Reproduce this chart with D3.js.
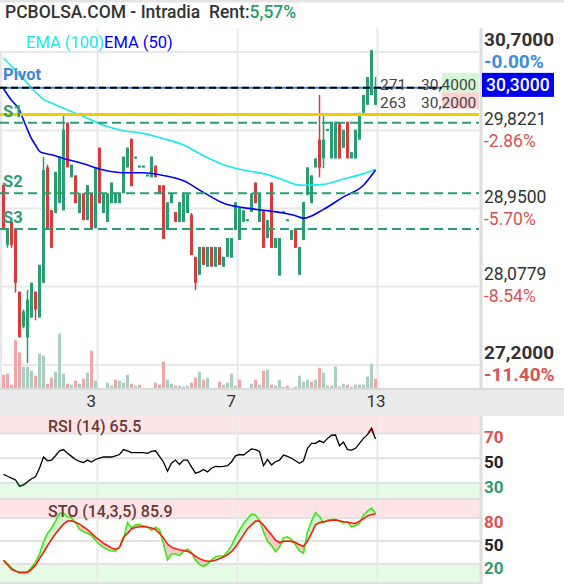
<!DOCTYPE html>
<html><head><meta charset="utf-8">
<script src="https://cdn.jsdelivr.net/npm/d3@7"></script>
<style>
html,body{margin:0;padding:0;background:#fff;}
svg{display:block;font-family:Roboto,"Noto Sans",sans-serif;}
text{white-space:pre;}
</style></head><body>
<svg id="c" width="564" height="584"></svg>
<script>
// ---------------- DATA ----------------
const opens  = [29.21,28.54,28.80,28.73,28.02,27.63,27.51,27.73,28.02,27.73,28.12,29.41,28.93,28.90,29.01,28.93,29.91,29.30,29.32,28.90,29.12,28.82,29.12,28.73,29.63,28.90,28.80,29.01,29.01,29.01,29.12,29.41,29.73,29.51,29.41,29.41,29.31,29.30,29.43,29.21,29.21,28.71,29.01,28.91,28.80,28.80,28.90,28.88,28.41,28.21,28.52,28.30,28.52,28.30,28.52,28.30,28.41,28.40,28.71,28.60,28.80,28.81,28.91,29.24,28.80,28.93,28.62,29.24,28.51,28.20,28.90,28.81,28.60,28.73,28.21,28.60,29.10,29.01,29.41,29.72,29.51,29.82,29.51,29.51,29.91,29.63,29.92,29.51,29.51,29.72,30.02,30.11,30.22,30.11];
const highs  = [29.24,28.73,28.82,28.73,28.02,27.82,28.04,28.12,28.02,28.32,29.53,29.44,28.93,29.36,29.53,30.00,29.91,29.44,29.32,29.12,29.12,29.21,29.12,29.41,29.63,29.12,29.12,29.24,29.12,29.12,29.53,29.63,29.73,29.53,29.43,29.43,29.33,29.53,29.43,29.21,29.21,29.02,29.12,28.91,29.02,29.12,29.12,28.90,28.41,28.52,28.52,28.52,28.52,28.52,28.52,28.41,28.62,28.62,29.02,28.96,28.93,28.83,29.12,29.24,29.12,28.93,28.82,29.24,28.62,28.62,28.92,28.83,28.71,28.73,28.52,29.02,29.41,29.32,29.51,30.22,30.02,29.84,29.92,29.92,29.91,29.83,29.92,29.58,29.83,30.02,30.22,30.42,30.72,30.42];
const lows   = [28.73,28.51,28.51,28.01,27.51,27.61,27.22,27.73,27.70,27.73,28.12,28.71,28.51,28.90,29.01,28.93,29.41,29.30,29.01,28.90,28.82,28.82,28.73,28.73,29.01,28.90,28.80,29.01,29.01,29.01,29.12,29.41,29.20,29.51,29.41,29.41,29.31,29.30,29.30,29.12,28.61,28.71,29.01,28.80,28.80,28.80,28.90,28.43,28.04,28.21,28.32,28.30,28.30,28.30,28.32,28.30,28.41,28.40,28.71,28.60,28.80,28.81,28.91,29.01,28.80,28.51,28.62,28.51,28.51,28.20,28.90,28.81,28.60,28.51,28.21,28.60,29.10,29.01,29.41,29.30,29.40,29.82,29.51,29.51,29.51,29.63,29.51,29.51,29.51,29.72,30.02,30.11,30.22,30.11];
const closes = [28.73,28.71,28.54,28.12,27.51,27.80,27.93,28.12,27.82,28.32,29.38,28.71,28.51,29.36,29.53,29.83,29.41,29.44,29.01,29.12,28.82,29.21,28.73,29.41,29.01,29.12,29.12,29.24,29.12,29.12,29.53,29.63,29.20,29.53,29.43,29.43,29.33,29.53,29.30,29.12,28.61,29.02,29.12,28.80,29.02,29.12,29.12,28.43,28.12,28.52,28.32,28.52,28.30,28.52,28.32,28.41,28.62,28.62,29.02,28.96,28.93,28.83,29.12,29.01,29.12,28.51,28.82,28.51,28.62,28.62,28.92,28.83,28.71,28.51,28.52,29.02,29.41,29.32,29.51,29.41,29.72,29.84,29.92,29.92,29.51,29.83,29.51,29.58,29.83,30.02,30.22,30.42,30.72,30.31];
const volumes = [13.3,14.3,3.3,48.3,35.7,21.3,21.3,17.3,12.3,34.3,32.3,4.3,10.3,16.3,54.3,14.3,4.3,3.3,7.3,4.3,9.3,15.3,37.3,7.3,0,0,5.3,2.3,8.3,7.3,5.3,13.3,4.3,2.3,3.3,0,0,0,5.3,3.3,26.3,8.3,4.3,2.3,2.3,1.3,2.3,5.3,10.3,16.3,8.3,10.3,0,0,6.3,3.3,5.3,14.3,2.3,8.3,0,0,4.3,8.3,3.3,17.3,18.3,3.3,2.3,8.3,1,2.3,0,1.3,12.3,6.3,8.3,6.3,8.3,20.3,15.3,2.3,2.3,21.3,1.3,4.3,3.3,1.3,3.3,3.3,3.3,11.3,24.3,9.3];

const emaIdx = [0,2,4,5,6,7,8,9,10,12,15,20,25,30,35,40,45,50,55,60,65,70,73,75,80,85,90,93];
const ema100 = [30.63,30.54,30.44,30.40,30.35,30.30,30.25,30.21,30.17,30.13,30.07,29.98,29.88,29.82,29.79,29.73,29.66,29.54,29.44,29.38,29.34,29.27,29.22,29.21,29.22,29.28,29.34,29.39];
const ema50  = [30.29,30.16,30.05,29.94,29.83,29.73,29.66,29.59,29.57,29.55,29.51,29.45,29.38,29.35,29.35,29.32,29.26,29.13,29.01,28.96,28.93,28.90,28.87,28.84,28.94,29.08,29.21,29.38];

const rsi  = [37,35.5,34,32.5,27.5,28.5,31,33.5,35,42,51,48,48.5,52,56,57,54,51.5,49,47.5,46.5,48.5,47,49,50,51,51,51,52,53,57,56,54.5,54.5,54.5,54.5,54,55.5,56,51.5,47,39.5,46,48.5,45,48.5,48.5,43,38,39,41,39,42,43.5,43.2,43.5,44,47,52,53,52.6,55,57.5,57,55.5,44,49,44.6,47.2,48.5,52.6,51.5,50,48,46,48,58,62,62,64,62.5,66,68.5,68.7,60,63,57,56.6,58,62,66,69,74,65.5];
const stoK = [24,20.5,15,11,8,8.5,9.5,15.5,22.5,32.5,49,60,67,76,86,86,81.5,80,74,65.5,62,60,57,51,45.5,41.5,39,37,37,42,52,74,67,71,71,70,68.5,64,68,65,46,25.5,33,33,31,36.5,39.5,35,25,19.5,17,20,25,29.5,30.4,30.4,36,44,55,64,73,79,85,84,77,62,50,44,36,42,54,55.5,52,45,37,34,62,76,87,82,74,77.5,78,78.2,76,73.5,75,68.5,70,73,84,89,93,85.9];
const stoD = [25,19,13,11,9.3,9,9,13,18.5,27,35,44,52,59.5,66,72,76,76.5,74.5,72,68.5,65,60,55,51,47,44,41,39,41.5,55,60,66,67.5,68.5,68.5,68,67,65,60,54,46,42,40,38.5,37.5,36.5,34,30,27,25,23.5,23.5,25,27,29,32,36,42,50,58,66,71,76,76,71,64,58,51,48,49.5,50,49.5,48,45,43,50,60,71,74,75,76,77,77.4,76.5,75.2,74.5,73.5,73,76,79,82.7,84.5,85.2];

const priceTicks = [30.7, 29.8221, 28.95, 28.0779, 27.2];
const priceTickLabels = ["30,7000","29,8221","28,9500","28,0779","27,2000"];
const pctTickLabels = ["-0.00%","-2.86%","-5.70%","-8.54%","-11.40%"];
const dayStart = [24, 59, 94];
const dayLabels = ["3","7","13"];
const levelNames = ["Pivot","S1","S2","S3"];
const levelValues = [30.30, 29.91, 29.12, 28.72];
const refLevel = 30.00;
const bookQty = [271, 263];
const bookPrice = ["30,4000","30,2000"];
const lastPriceLabel = "30,3000";
const rsiLevels = [70, 50, 30];
const stoLevels = [80, 50, 20];

// ---------------- SCALES ----------------
const svg = d3.select('#c');
const N = closes.length;
const PR = 479;   // right edge of plotting area
const x = d3.scaleLinear().domain([0, N]).range([1.5, 377.5]);
const cx = i => x(i + 0.5);
const yP = d3.scaleLinear().domain([27.2, 30.7]).range([365, 52]);
const yV = d3.scaleLinear().domain([0, 60]).range([388, 328]);
const yR = d3.scaleLinear().domain([18, 84]).range([498, 416]);
const yS = d3.scaleLinear().domain([-3.5, 103.5]).range([582, 500]);

const GRID = '#e8e8e8', GREEN = '#2a9d72', RED = '#d63c3c';

const defs = svg.append('defs');
function clipRect(id, x0, y0, w, h){ defs.append('clipPath').attr('id', id).append('rect').attr('x',x0).attr('y',y0).attr('width',w).attr('height',h); }
clipRect('cPrice', 0, 28, PR, 360);
clipRect('cRsi', 0, 416, PR, 82);
clipRect('cSto', 0, 500, PR, 82);
clipRect('cRsiHi', 0, 410, PR, yR(70) - 410);
clipRect('cRsiLo', 0, yR(30), PR, 100);

// top bar
svg.append('rect').attr('x',0).attr('y',0).attr('width',564).attr('height',2.5).attr('fill','#e4e4e4');

// title
const title = svg.append('text').attr('x',5).attr('y',18).attr('font-size',17.5).attr('font-weight',500).attr('fill','#333');
title.append('tspan').text('PCBOLSA.COM - Intradia  Rent:');
title.append('tspan').attr('fill','#2a9d72').text('5,57%');

// ---------------- PRICE PANEL ----------------
const gP = svg.append('g');
gP.selectAll('line.hg').data(priceTicks).join('line').attr('class','hg')
  .attr('x1',0).attr('x2',PR).attr('y1',d=>yP(d)).attr('y2',d=>yP(d)).attr('stroke',GRID).attr('stroke-width',2);
gP.selectAll('line.vg').data(dayStart).join('line').attr('class','vg')
  .attr('x1',d=>x(d)).attr('x2',d=>x(d)).attr('y1',28).attr('y2',388).attr('stroke',GRID).attr('stroke-width',2);
gP.append('line').attr('x1',1).attr('x2',1).attr('y1',52).attr('y2',388).attr('stroke',GRID).attr('stroke-width',2);

const plot = svg.append('g').attr('clip-path','url(#cPrice)');
// volume
plot.selectAll('rect.vol').data(volumes).join('rect').attr('class','vol')
  .attr('x',(d,i)=>cx(i)-1.5).attr('width',3)
  .attr('y',d=>yV(d)).attr('height',d=>yV(0)-yV(d))
  .attr('fill',(d,i)=> closes[i] >= (i ? closes[i-1] : opens[i]) ? '#a9cfbf' : '#f4a6a6');

// candles
const idx = d3.range(N);
plot.selectAll('line.wick').data(idx).join('line').attr('class','wick')
  .attr('x1',i=>cx(i)).attr('x2',i=>cx(i)).attr('y1',i=>yP(highs[i])).attr('y2',i=>yP(lows[i]))
  .attr('stroke',i=>closes[i]>=opens[i]?GREEN:RED).attr('stroke-width',1.5);
plot.selectAll('rect.body').data(idx).join('rect').attr('class','body')
  .attr('x',i=>cx(i)-1.5).attr('width',3)
  .attr('y',i=>yP(Math.max(opens[i],closes[i])))
  .attr('height',i=>Math.max(2, Math.abs(yP(opens[i])-yP(closes[i]))))
  .attr('fill',i=>closes[i]>=opens[i]?GREEN:RED);

// EMAs
const emaLine = arr => d3.line().x((d,k)=>cx(emaIdx[k])).y(d=>yP(d)).curve(d3.curveMonotoneX)(arr);
plot.append('path').attr('d',emaLine(ema100)).attr('fill','none').attr('stroke','#19e9ef').attr('stroke-width',1.6);
plot.append('path').attr('d',emaLine(ema50)).attr('fill','none').attr('stroke','#0000ff').attr('stroke-width',1.6);

// levels
plot.append('line').attr('x1',0).attr('x2',PR).attr('y1',yP(refLevel)).attr('y2',yP(refLevel)).attr('stroke','#f0cd00').attr('stroke-width',3);
levelValues.forEach((v,k)=>{
  if(k===0){
    plot.append('line').attr('x1',0).attr('x2',PR).attr('y1',yP(v)).attr('y2',yP(v)).attr('stroke','#3d85d8').attr('stroke-width',2);
    plot.append('line').attr('x1',0).attr('x2',PR).attr('y1',yP(v)).attr('y2',yP(v)).attr('stroke','#000').attr('stroke-width',2).attr('stroke-dasharray','7,4');
  } else {
    plot.append('line').attr('x1',0).attr('x2',PR).attr('y1',yP(v)).attr('y2',yP(v)).attr('stroke',GREEN).attr('stroke-width',2).attr('stroke-dasharray','9,5');
  }
});
svg.selectAll('text.lvl').data(levelNames).join('text').attr('class','lvl')
  .attr('x',3).attr('y',(d,k)=>yP(levelValues[k]) - (k===0?8:6))
  .attr('font-size',16.5).attr('font-weight',700)
  .attr('fill',(d,k)=>k===0?'#3d85d8':'#2e9e72').text(d=>d);

// legend
const leg = svg.append('text').attr('x',26).attr('y',48).attr('font-size',16.5);
leg.append('tspan').attr('fill','#19e9ef').text('EMA (100)');
leg.append('tspan').attr('fill','#0000ff').text('EMA (50)');

// order book
const lastY = yP(closes[N-1]);
const book = svg.append('g').attr('clip-path','url(#cPrice)');
book.append('rect').attr('x',442).attr('y',lastY-14).attr('width',40).attr('height',19.5).attr('fill','#d6f7d6');
book.append('rect').attr('x',442).attr('y',lastY+5.5).attr('width',40).attr('height',16.5).attr('fill','#f9d2d2');
bookQty.forEach((q,k)=>{
  const by = lastY + 3 + k*18;
  book.append('text').attr('x',380).attr('y',by).attr('font-size',15.5).attr('fill','#444').text(q);
  book.append('text').attr('x',421).attr('y',by).attr('font-size',15.5).attr('fill','#444').text(bookPrice[k]);
});

// right axis
svg.append('line').attr('x1',481).attr('x2',481).attr('y1',28).attr('y2',388).attr('stroke','#dedede').attr('stroke-width',3);
priceTicks.forEach((v,k)=>{
  const edge = (k===0 || k===priceTicks.length-1);
  svg.append('text').attr('x',484).attr('y',yP(v)-6).attr('font-size',edge?19:17.5).attr('font-weight',edge?700:400).attr('fill','#333').text(priceTickLabels[k]);
  svg.append('text').attr('x',484).attr('y',yP(v)+16).attr('font-size',edge?19:17.5).attr('font-weight',edge?700:400)
    .attr('fill',k===0?'#3d8be3':'#d9534f').text(pctTickLabels[k]);
});
svg.append('rect').attr('x',482).attr('y',lastY-14).attr('width',72).attr('height',24).attr('fill','#0000f0');
svg.append('text').attr('x',486).attr('y',lastY+4).attr('font-size',17.5).attr('font-weight',500).attr('fill','#fff').text(lastPriceLabel);

// x axis band
svg.append('rect').attr('x',0).attr('y',388).attr('width',564).attr('height',28).attr('fill','#ebebeb');
svg.append('rect').attr('x',0).attr('y',388).attr('width',564).attr('height',2).attr('fill','#dadada');
svg.selectAll('text.day').data(dayLabels).join('text').attr('class','day')
  .attr('x',(d,k)=>x(dayStart[k])-11).attr('y',407).attr('font-size',17).attr('fill','#333').text(d=>d);

// ---------------- RSI PANEL ----------------
function panelBase(yScale, top, bottom, hi, lo, levels){
  svg.append('rect').attr('x',0).attr('y',top).attr('width',480).attr('height',yScale(hi)-top).attr('fill','#fde5e5');
  svg.append('rect').attr('x',0).attr('y',yScale(lo)).attr('width',480).attr('height',bottom-yScale(lo)).attr('fill','#e6fbe6');
  levels.forEach(l=>svg.append('line').attr('x1',0).attr('x2',480).attr('y1',yScale(l)).attr('y2',yScale(l)).attr('stroke','#e2e2e2').attr('stroke-width',2));
  dayStart.forEach(d=>svg.append('line').attr('x1',x(d)).attr('x2',x(d)).attr('y1',top).attr('y2',bottom).attr('stroke',GRID).attr('stroke-width',2));
  svg.append('line').attr('x1',481).attr('x2',481).attr('y1',top).attr('y2',bottom+2).attr('stroke','#dedede').attr('stroke-width',3);
  svg.append('rect').attr('x',0).attr('y',bottom).attr('width',480).attr('height',2).attr('fill','#e0e0e0');
  const cols = ['#d9534f','#222','#2e9e72'];
  levels.forEach((l,k)=>svg.append('text').attr('x',484).attr('y',yScale(l)+10).attr('font-size',17).attr('font-weight',700).attr('fill',cols[k]).text(l));
}
panelBase(yR, 416, 498, 70, 30, rsiLevels);
const rsiPath = d3.line().x((d,i)=>cx(i)).y(d=>yR(d))(rsi);
const gR = svg.append('g').attr('clip-path','url(#cRsi)');
gR.append('path').attr('d',rsiPath).attr('fill','none').attr('stroke','#000').attr('stroke-width',1.3);
gR.append('g').attr('clip-path','url(#cRsiHi)').append('path').attr('d',rsiPath).attr('fill','none').attr('stroke','#7a0000').attr('stroke-width',1.5);
gR.append('g').attr('clip-path','url(#cRsiLo)').append('path').attr('d',rsiPath).attr('fill','none').attr('stroke','#006400').attr('stroke-width',1.5);
svg.append('text').attr('x',48).attr('y',432).attr('font-size',16).attr('font-weight',500).attr('fill','#6b3636').text('RSI (14) ' + rsi[N-1]);

// ---------------- STO PANEL ----------------
panelBase(yS, 500, 582, 80, 20, stoLevels);
defs.append('clipPath').attr('id','cAboveD').append('path')
  .attr('d', d3.area().x((d,i)=>cx(i)).y0(490).y1(d=>yS(d))(stoD));
defs.append('clipPath').attr('id','cBelowD').append('path')
  .attr('d', d3.area().x((d,i)=>cx(i)).y0(d=>yS(d)).y1(590)(stoD));
const kdArea = d3.area().x(i=>cx(i)).y0(i=>yS(stoD[i])).y1(i=>yS(stoK[i]))(idx);
const gS = svg.append('g').attr('clip-path','url(#cSto)');
gS.append('g').attr('clip-path','url(#cAboveD)').append('path').attr('d',kdArea).attr('fill','#cff7cf');
gS.append('g').attr('clip-path','url(#cBelowD)').append('path').attr('d',kdArea).attr('fill','#f7c9c9');
gS.append('path').attr('d',d3.line().x((d,i)=>cx(i)).y(d=>yS(d))(stoK)).attr('fill','none').attr('stroke','#3ee51a').attr('stroke-width',1.6);
gS.append('path').attr('d',d3.line().x((d,i)=>cx(i)).y(d=>yS(d))(stoD)).attr('fill','none').attr('stroke','#ff1a0a').attr('stroke-width',1.6);
svg.append('text').attr('x',48).attr('y',517).attr('font-size',16).attr('font-weight',500).attr('fill','#6b3636').text('STO (14,3,5) ' + stoK[N-1]);
</script>
</body></html>
